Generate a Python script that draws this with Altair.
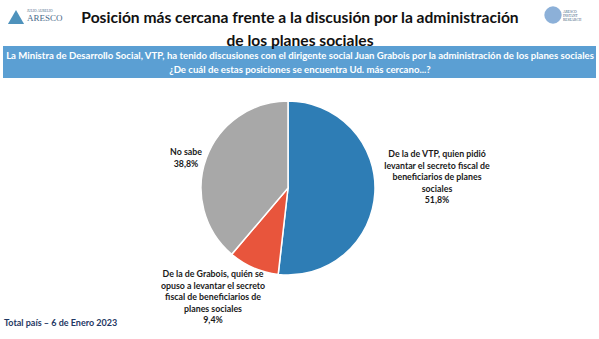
import altair as alt
import pandas as pd

categories = [
    "De la de VTP, quien pidió levantar el secreto fiscal de beneficiarios de planes sociales",
    "De la de Grabois, quién se opuso a levantar el secreto fiscal de beneficiarios de planes sociales",
    "No sabe",
]
values = [51.8, 9.4, 38.8]
colors = ["#2E7DB5", "#E8553C", "#A8A8A8"]
order = [0, 1, 2]

title_lines = ["Posición más cercana frente a la discusión por la administración",
               "de los planes sociales"]
band_lines = ["La Ministra de Desarrollo Social, VTP, ha tenido discusiones con el dirigente social Juan Grabois por la administración de los planes sociales",
              "¿De cuál de estas posiciones  se encuentra Ud. más cercano...?"]
label_vtp = ["De la de VTP, quien pidió", "levantar el secreto fiscal de",
             "beneficiarios de planes", "sociales", "51,8%"]
label_grabois = ["De la de Grabois, quién se", "opuso a levantar el secreto",
                 "fiscal de beneficiarios de", "planes sociales", "9,4%"]
label_nosabe = ["No sabe", "38,8%"]
footer = "Total país – 6 de Enero 2023"

FONT = "Lato"

df = pd.DataFrame({"cat": categories, "value": values, "order": order})

base = alt.Chart(df)

pie = base.mark_arc(stroke="white", strokeWidth=1.5).encode(
    theta=alt.Theta("value:Q", stack=True),
    order=alt.Order("order:Q"),
    color=alt.Color("cat:N", scale=alt.Scale(domain=categories, range=colors), legend=None),
    x=alt.value(288),
    y=alt.value(188),
    radius=alt.value(87),
)

one = alt.Chart(pd.DataFrame({"a": [0]}))

band = one.mark_rect(color="#5B9FD3").encode(
    x=alt.value(3), x2=alt.value(596), y=alt.value(46), y2=alt.value(78)
)

title = one.mark_text(font=FONT, fontWeight="bold", fontSize=15.6, lineHeight=23,
                      align="center", baseline="middle", color="#111111").encode(
    x=alt.value(300), y=alt.value(18), text=alt.value(title_lines)
)

band_text = one.mark_text(font=FONT, fontWeight="bold", fontSize=9.6, lineHeight=14,
                          align="center", baseline="middle", color="white").encode(
    x=alt.value(300), y=alt.value(56), text=alt.value(band_lines)
)

lab_style = dict(font=FONT, fontWeight="bold", fontSize=8.8, lineHeight=11.5,
                 align="center", baseline="middle", color="#1a1a1a")

t_vtp = one.mark_text(**lab_style).encode(x=alt.value(437), y=alt.value(154), text=alt.value(label_vtp))
t_gra = one.mark_text(**lab_style).encode(x=alt.value(213), y=alt.value(274), text=alt.value(label_grabois))
t_ns = one.mark_text(**lab_style).encode(x=alt.value(186), y=alt.value(152), text=alt.value(label_nosabe))

foot = one.mark_text(font=FONT, fontWeight="bold", fontSize=9, align="left",
                     baseline="middle", color="#1F3864").encode(
    x=alt.value(4), y=alt.value(323), text=alt.value(footer)
)

# logos (approximate, as text/shape)
logo_tri = one.mark_point(shape="triangle-up", filled=True, size=260, color="#2F7FB0", opacity=0.85).encode(
    x=alt.value(16), y=alt.value(17)
)
logo_l = one.mark_text(font="Liberation Serif", fontSize=9, align="left", baseline="middle",
                       color="#4A6A8A").encode(x=alt.value(27), y=alt.value(18), text=alt.value("ARESCO"))
logo_l2 = one.mark_text(font="Liberation Serif", fontSize=3.5, align="left", baseline="middle",
                        color="#4A6A8A").encode(x=alt.value(27), y=alt.value(11), text=alt.value("JULIO AURELIO"))
logo_r_shape = one.mark_point(shape="circle", filled=True, size=300, color="#5B8FC8", opacity=0.7).encode(
    x=alt.value(553), y=alt.value(15)
)
logo_r = one.mark_text(font="Liberation Serif", fontSize=3.5, lineHeight=4, align="left", baseline="middle",
                       color="#335577").encode(x=alt.value(563), y=alt.value(12),
                                                text=alt.value(["ARESCO", "INSTANT", "RESEARCH"]))

chart = alt.layer(band, title, band_text, pie, t_vtp, t_gra, t_ns, foot,
                  logo_tri, logo_l, logo_l2, logo_r_shape, logo_r).properties(
    width=599, height=339, padding=0, autosize="none", background="white"
).configure_view(stroke=None)

chart.save("out.html", embed_options={"renderer": "svg", "actions": False})
